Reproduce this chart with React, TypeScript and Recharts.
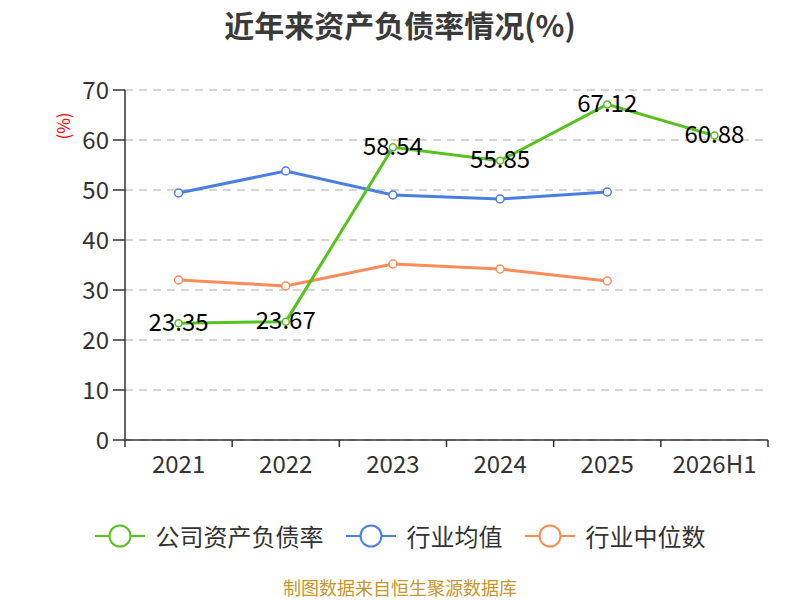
import { CartesianGrid, LabelList, Line, LineChart, XAxis, YAxis } from "recharts";

// 资产负债率 (%)
const YEARS = ["2021", "2022", "2023", "2024", "2025", "2026H1"];
const COMPANY = [23.35, 23.67, 58.54, 55.85, 67.12, 60.88];
const INDUSTRY_AVG = [49.4, 53.8, 49.0, 48.2, 49.6, null];
const INDUSTRY_MEDIAN = [32.0, 30.8, 35.2, 34.2, 31.8, null];
const Y_TICKS = [0, 10, 20, 30, 40, 50, 60, 70];

const GREEN = "#56c21e";
const BLUE = "#4a7ee0";
const ORANGE = "#fb8c5a";
const AXIS = "#333";
const FONT = "'Noto Sans CJK SC', 'Noto Sans', sans-serif";

const data = YEARS.map((year, i) => ({
  year,
  company: COMPANY[i],
  avg: INDUSTRY_AVG[i],
  median: INDUSTRY_MEDIAN[i],
}));

const PLOT_LEFT = 125;
const PLOT_RIGHT = 768;
const HALF_BAND = (PLOT_RIGHT - PLOT_LEFT) / YEARS.length / 2;

// x ticks sit on band boundaries, labels in the middle
function XTick(props: any) {
  const { x, y, payload, index } = props;
  const last = index === YEARS.length - 1;
  return (
    <g>
      <line x1={x - HALF_BAND} x2={x - HALF_BAND} y1={y - 8} y2={y - 1} stroke={AXIS} strokeWidth={1.5} />
      {last && <line x1={x + HALF_BAND} x2={x + HALF_BAND} y1={y - 8} y2={y - 1} stroke={AXIS} strokeWidth={1.5} />}
      <text x={x} y={y + 25} textAnchor="middle" fill={AXIS} fontSize={24} fontFamily={FONT}>
        {payload.value}
      </text>
    </g>
  );
}

function ValueLabel(props: any) {
  const { x, y, value } = props;
  return (
    <text x={x} y={y - 3} textAnchor="middle" dominantBaseline="central" fill="#000" fontSize={24} fontFamily={FONT}>
      {Number(value).toFixed(2)}
    </text>
  );
}

const LEGEND = [
  { name: "公司资产负债率", color: GREEN },
  { name: "行业均值", color: BLUE },
  { name: "行业中位数", color: ORANGE },
];

export default function App() {
  return (
    <div style={{ position: "absolute", left: 0, top: 0, width: 800, height: 600, background: "#fff", fontFamily: FONT, overflow: "hidden" }}>
      <div style={{ position: "absolute", top: 2, width: 800, textAlign: "center", fontSize: 30, fontWeight: "bold", color: "#3a3a3a" }}>
        近年来资产负债率情况(%)
      </div>
      <div
        style={{
          position: "absolute",
          left: 62,
          top: 126,
          transform: "translate(-50%, -50%) rotate(-90deg)",
          color: "#f00",
          fontSize: 17,
        }}
      >
        (%)
      </div>
      <LineChart
        width={800}
        height={600}
        data={data}
        margin={{ top: 90, right: 800 - PLOT_RIGHT, bottom: 130, left: PLOT_LEFT - 70 }}
      >
        <CartesianGrid stroke="#c8c8c8" strokeDasharray="8 6" strokeWidth={1.5} vertical={false} />
        <XAxis
          dataKey="year"
          height={30}
          padding={{ left: HALF_BAND, right: HALF_BAND }}
          axisLine={{ stroke: AXIS, strokeWidth: 1.5 }}
          tickLine={false}
          tick={<XTick />}
          interval={0}
        />
        <YAxis
          width={70}
          domain={[0, 70]}
          ticks={Y_TICKS}
          interval={0}
          axisLine={{ stroke: AXIS, strokeWidth: 1.5 }}
          tickLine={{ stroke: AXIS, strokeWidth: 1.5 }}
          tickSize={12}
          tickMargin={4}
          tick={{ fill: AXIS, fontSize: 24, fontFamily: FONT }}
        />
        <Line
          dataKey="avg"
          stroke={BLUE}
          strokeWidth={3}
          dot={{ r: 4, fill: "#fff", stroke: BLUE, strokeWidth: 1.5 }}
          isAnimationActive={false}
        />
        <Line
          dataKey="median"
          stroke={ORANGE}
          strokeWidth={3}
          dot={{ r: 4, fill: "#fff", stroke: ORANGE, strokeWidth: 1.5 }}
          isAnimationActive={false}
        />
        <Line
          dataKey="company"
          stroke={GREEN}
          strokeWidth={3}
          dot={{ r: 3.5, fill: "#fff", stroke: GREEN, strokeWidth: 1.5 }}
          isAnimationActive={false}
        >
          <LabelList dataKey="company" content={<ValueLabel />} />
        </Line>
      </LineChart>
      <div style={{ position: "absolute", top: 519, left: 0, width: 800, display: "flex", justifyContent: "center" }}>
        {LEGEND.map((item, i) => (
          <div key={item.name} style={{ display: "flex", alignItems: "center", marginLeft: i === 0 ? 0 : 22 }}>
            <svg width={50} height={26} style={{ marginRight: 11 }}>
              <line x1={0} x2={50} y1={13} y2={13} stroke={item.color} strokeWidth={2} />
              <circle cx={25} cy={13} r={10.5} fill="#fff" stroke={item.color} strokeWidth={2} />
            </svg>
            <span style={{ fontSize: 24, color: "#333", lineHeight: "34px" }}>{item.name}</span>
          </div>
        ))}
      </div>
      <div style={{ position: "absolute", top: 574, width: 800, textAlign: "center", fontSize: 18, lineHeight: "26px", color: "#c5962c" }}>
        制图数据来自恒生聚源数据库
      </div>
    </div>
  );
}
